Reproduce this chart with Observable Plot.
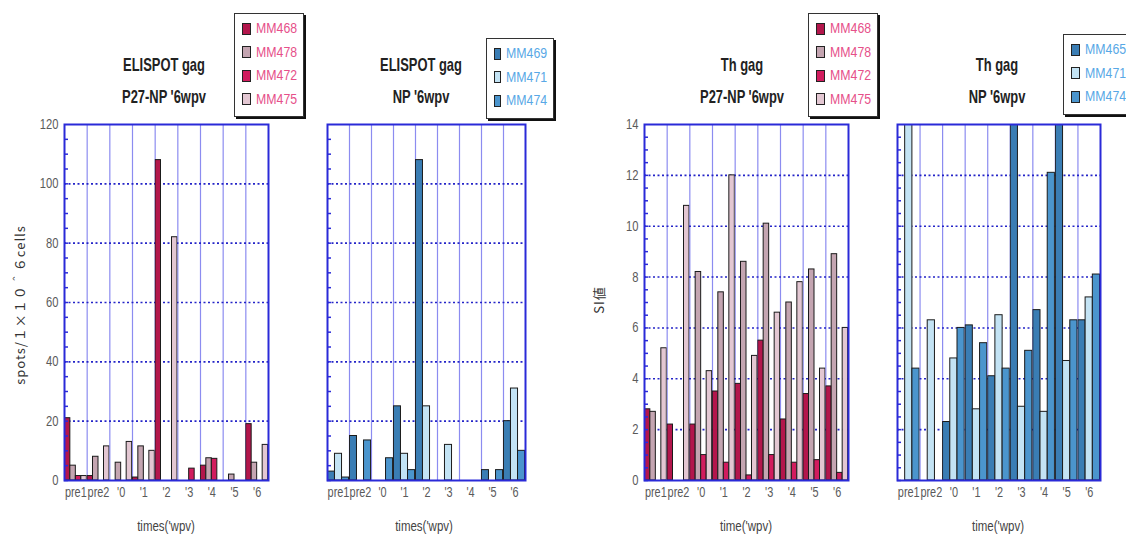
<!DOCTYPE html>
<html><head><meta charset="utf-8">
<script src="https://cdn.jsdelivr.net/npm/d3@7"></script>
<script src="https://cdn.jsdelivr.net/npm/@observablehq/plot@0.6"></script>
<style>
body{margin:0;background:#fff;}
#root{position:relative;width:1126px;height:538px;overflow:hidden;font-family:"Liberation Sans","DejaVu Sans",sans-serif;}
#root svg{position:absolute;left:0;top:0;}
.t{position:absolute;white-space:nowrap;color:#1e1e1e;}
.title{font-size:19px;font-weight:bold;transform:translate(-50%,-50%) scaleX(0.68);color:#222;}
.xt{font-size:14px;color:#444;transform:translate(-50%,-50%) scaleX(0.82);}
.yt{font-size:13px;letter-spacing:1px;color:#333;transform:translate(-50%,-50%) rotate(-90deg);font-family:"Noto Sans CJK JP","Liberation Sans",sans-serif;}
.legend{position:absolute;border:1px solid #333;box-shadow:2px 2px 0 #111;background:#fff;box-sizing:border-box;padding:3px 0 0 7px;}
.item{height:23.5px;line-height:23.5px;font-size:14px;display:flex;align-items:center;}
.item span.lbl{display:inline-block;transform:scaleX(0.88);transform-origin:left center;}
.sw{display:inline-block;width:7px;height:10px;border:1.5px solid #222;margin-right:5px;}
</style></head>
<body><div id="root"></div>
<script>
// ---------- data ----------
const times = ["pre1", "pre2", "'0", "'1", "'2", "'3", "'4", "'5", "'6"];
const seriesP27 = ["MM468", "MM478", "MM472", "MM475"];
const seriesNP_elispot = ["MM469", "MM471", "MM474"];
const seriesNP_th = ["MM465", "MM471", "MM474"];

// ELISPOT gag, P27-NP (spots / 1x10^6 cells)
const eliP27_MM468 = [21, 1.5, 0, 1, 108, 0, 5, 0, 19];
const eliP27_MM478 = [5, 8, 6, 11.5, 0, 0, 7.5, 2, 6];
const eliP27_MM472 = [1.5, 0, 0, 0, 0, 4, 7.3, 0, 0];
const eliP27_MM475 = [1.5, 11.5, 13, 10, 82, 0, 0, 0, 12];

// ELISPOT gag, NP
const eliNP_MM469 = [3, 15, 0, 25, 108, 0, 0, 3.5, 20];
const eliNP_MM471 = [9, 0, 0, 9, 25, 12, 0, 0, 31];
const eliNP_MM474 = [1, 13.5, 7.5, 3.5, 0, 0, 0, 3.5, 10];

// Th gag, P27-NP (SI)
const thP27_MM468 = [2.8, 2.2, 2.2, 3.5, 3.8, 5.5, 2.4, 3.4, 3.7];
const thP27_MM478 = [2.7, 0, 8.2, 7.4, 8.6, 10.1, 7.0, 8.3, 8.9];
const thP27_MM472 = [0, 0, 1.0, 0.7, 0.2, 1.0, 0.7, 0.8, 0.3];
const thP27_MM475 = [5.2, 10.8, 4.3, 12, 4.9, 6.6, 7.8, 4.4, 6.0];

// Th gag, NP (SI) – values above 14 run off the chart
const thNP_MM465 = [0, 0, 2.3, 6.1, 4.1, 16, 6.7, 16, 6.3];
const thNP_MM471 = [16, 6.3, 4.8, 2.8, 6.5, 2.9, 2.7, 4.7, 7.2];
const thNP_MM474 = [4.4, 0, 6.0, 5.4, 4.4, 5.1, 12.1, 6.3, 8.1];

const yTicksEli = [0, 20, 40, 60, 80, 100, 120];
const yTicksTh = [0, 2, 4, 6, 8, 10, 12, 14];

// ---------- styles ----------
const pinkColors = ["#b3164c", "#c4a5b1", "#d11c5e", "#e3c7d2"];
const blueColors = ["#3a7db4", "#c3e3f4", "#4b95cd"];
const W = 1126, H = 538, TOP = 124, BOTTOM = 480;
const FONT = '"Liberation Sans","DejaVu Sans",sans-serif';
const root = document.getElementById("root");

// narrow the axis labels around their anchor point
function condense(svg, s) {
  svg.querySelectorAll("text").forEach(t => {
    const x = +(t.getAttribute("x") || 0);
    const tr = t.getAttribute("transform") || "";
    t.setAttribute("transform", `${tr} translate(${x},0) scale(${s},1) translate(${-x},0)`);
  });
  return svg;
}

function panel({left, right, series, colors, values, ticks, minorStep, showY}) {
  const yMax = ticks[ticks.length - 1];
  const data = [];
  times.forEach((t, i) => series.forEach((s, j) => data.push({time: t, series: s, value: values[j][i]})));
  const common = {
    width: W, height: H,
    marginLeft: left, marginRight: W - right, marginTop: TOP, marginBottom: H - BOTTOM,
    style: {background: "transparent", fontFamily: FONT, fontSize: "14px", color: "#5a5a5a", overflow: "visible"}
  };
  const bg = Plot.plot({
    ...common,
    x: {type: "linear", domain: [0, times.length], axis: null},
    y: {domain: [0, yMax], axis: null},
    marks: [
      Plot.ruleX(d3.range(1, times.length), {stroke: "#8c8cf0", strokeWidth: 1.2}),
      Plot.ruleY(ticks.slice(1, -1), {stroke: "#2424c8", strokeWidth: 1.6, strokeDasharray: "2,2.5"})
    ]
  });
  const bars = Plot.plot({
    ...common,
    fx: {domain: times, padding: 0, round: false, axis: "bottom", label: null, tickSize: 0, tickPadding: 7},
    x: {domain: series, axis: null, paddingInner: 0, paddingOuter: 0.06, round: false},
    y: {domain: [0, yMax], axis: null},
    color: {domain: series, range: colors},
    marks: [
      Plot.barY(data, {fx: "time", x: "series", y: "value", fill: "series", stroke: "#1b1b1b", strokeWidth: 1, clip: true})
    ]
  });
  const fgMarks = [
    Plot.axisY({ticks: d3.range(0, yMax, minorStep), tickSize: -4, text: null, label: null, stroke: "#2a2ad8", strokeWidth: 1.5}),
    Plot.frame({stroke: "#2a2ad8", strokeWidth: 2})
  ];
  if (showY) fgMarks.push(Plot.axisY({ticks, tickSize: 0, tickPadding: 6, label: null, fill: "#5a5a5a"}));
  const fg = Plot.plot({...common, y: {domain: [0, yMax]}, marks: fgMarks});
  root.append(bg, condense(bars, 0.78), condense(fg, 0.8));
}

panel({left: 64, right: 268, series: seriesP27, colors: pinkColors,
  values: [eliP27_MM468, eliP27_MM478, eliP27_MM472, eliP27_MM475], ticks: yTicksEli, minorStep: 5, showY: true});
panel({left: 327, right: 525, series: seriesNP_elispot, colors: blueColors,
  values: [eliNP_MM469, eliNP_MM471, eliNP_MM474], ticks: yTicksEli, minorStep: 5, showY: false});
panel({left: 644, right: 848, series: seriesP27, colors: pinkColors,
  values: [thP27_MM468, thP27_MM478, thP27_MM472, thP27_MM475], ticks: yTicksTh, minorStep: 0.5, showY: true});
panel({left: 897, right: 1100, series: seriesNP_th, colors: blueColors,
  values: [thNP_MM465, thNP_MM471, thNP_MM474], ticks: yTicksTh, minorStep: 0.5, showY: false});

// ---------- text ----------
function txt(cls, x, y, s) {
  const d = document.createElement("div");
  d.className = "t " + cls; d.style.left = x + "px"; d.style.top = y + "px"; d.textContent = s;
  root.append(d);
}
const titles = [
  [164, "ELISPOT gag", "P27-NP '6wpv"],
  [421, "ELISPOT gag", "NP '6wpv"],
  [742, "Th gag", "P27-NP '6wpv"],
  [997, "Th gag", "NP '6wpv"]
];
titles.forEach(([x, a, b]) => { txt("title", x, 65, a); txt("title", x, 97, b); });
txt("xt", 166, 526, "times('wpv)");
txt("xt", 424, 526, "times('wpv)");
txt("xt", 746, 526, "time('wpv)");
txt("xt", 998, 526, "time('wpv)");
txt("yt", 19, 305, "spots/１×１０＾６cells");
txt("yt", 598, 300, "SI値");

function legend(x, y, w, series, colors, textColor) {
  const box = document.createElement("div");
  box.className = "legend";
  box.style.left = x + "px"; box.style.top = y + "px"; box.style.width = w + "px";
  box.style.height = (series.length * 23.5 + 10) + "px";
  series.forEach((s, i) => {
    const it = document.createElement("div");
    it.className = "item"; it.style.color = textColor;
    const sw = document.createElement("span");
    sw.className = "sw"; sw.style.background = colors[i];
    const lb = document.createElement("span");
    lb.className = "lbl"; lb.textContent = s;
    it.append(sw, lb);
    box.append(it);
  });
  root.append(box);
}
legend(234, 13, 70, seriesP27, pinkColors, "#e6508a");
legend(486, 38, 68, seriesNP_elispot, blueColors, "#58a8e6");
legend(808, 13, 70, seriesP27, pinkColors, "#e6508a");
legend(1063, 34, 70, seriesNP_th, blueColors, "#58a8e6");
</script></body></html>
